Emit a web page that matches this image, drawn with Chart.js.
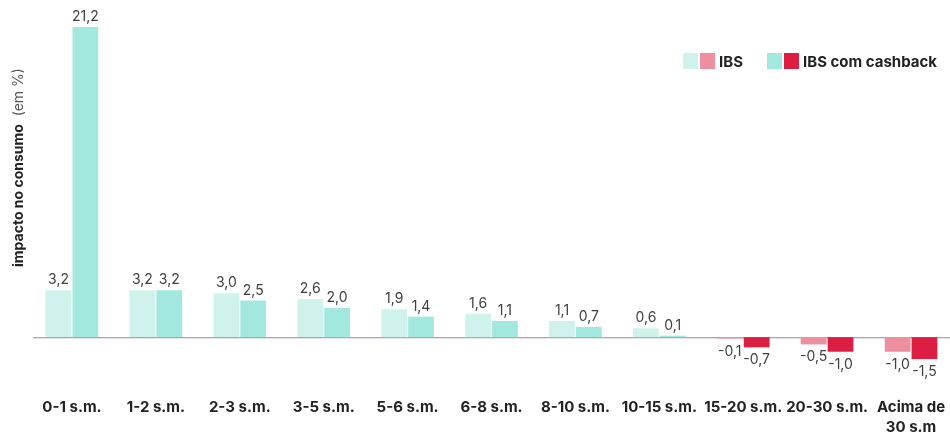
<!DOCTYPE html>
<html lang="pt-BR">
<head>
<meta charset="utf-8">
<title>Impacto no consumo por faixa de renda</title>
<script src="https://cdn.jsdelivr.net/npm/chart.js@4.4.1/dist/chart.umd.min.js"></script>
<style>
  html, body { margin: 0; padding: 0; background: #ffffff; overflow: hidden; }
  #wrap { width: 960px; height: 434px; position: relative; }
</style>
</head>
<body>
<div id="wrap"><canvas id="chart" width="960" height="434"></canvas></div>
<script>
// Faixas de renda (salários mínimos)
const categories = [
  '0-1 s.m.', '1-2 s.m.', '2-3 s.m.', '3-5 s.m.', '5-6 s.m.', '6-8 s.m.',
  '8-10 s.m.', '10-15 s.m.', '15-20 s.m.', '20-30 s.m.', ['Acima de', '30 s.m']
];
// Impacto no consumo (em %)
const ibsValues = [3.2, 3.2, 3.0, 2.6, 1.9, 1.6, 1.1, 0.6, -0.1, -0.5, -1.0];
const cashbackValues = [21.2, 3.2, 2.5, 2.0, 1.4, 1.1, 0.7, 0.1, -0.7, -1.0, -1.5];
const seriesNames = ['IBS', 'IBS com cashback'];

const COLORS = {
  ibsPos: '#cff2ed',
  ibsNeg: '#ee8fa0',
  cbPos: '#a3e8de',
  cbNeg: '#dc1e43'
};
const FONT = 'Inter, "Open Sans", sans-serif';

const fmt = v => v.toFixed(1).replace('.', ',');

// Linha do zero
const zeroLine = {
  id: 'zeroLine',
  beforeDatasetsDraw(chart) {
    const ctx = chart.ctx;
    const y = Math.round(chart.scales.y.getPixelForValue(0));
    ctx.save();
    ctx.fillStyle = '#aaa6ae';
    ctx.fillRect(33, y, chart.width - 33, 1);
    ctx.fillStyle = '#e6e2ea';
    ctx.fillRect(33, y + 1, chart.width - 33, 1);
    ctx.restore();
  }
};

// Rótulos de valor sobre/sob as barras
const valueLabels = {
  id: 'valueLabels',
  afterDatasetsDraw(chart) {
    const ctx = chart.ctx;
    ctx.save();
    ctx.font = '400 14px ' + FONT;
    ctx.fillStyle = '#404040';
    ctx.textAlign = 'center';
    ctx.textBaseline = 'alphabetic';
    chart.data.datasets.forEach((ds, di) => {
      const meta = chart.getDatasetMeta(di);
      meta.data.forEach((bar, i) => {
        const v = ds.data[i];
        const y = v >= 0 ? bar.y - 6 : bar.y + 17;
        ctx.fillText(fmt(v), bar.x, y);
      });
    });
    ctx.restore();
  }
};

// Legenda com amostras duplas (positivo / negativo)
const dualLegend = {
  id: 'dualLegend',
  afterDraw(chart) {
    const ctx = chart.ctx;
    const items = [
      { x: 683, colors: [COLORS.ibsPos, COLORS.ibsNeg], text: seriesNames[0] },
      { x: 767, colors: [COLORS.cbPos, COLORS.cbNeg], text: seriesNames[1] }
    ];
    const top = 53, size = 16, w = 15;
    ctx.save();
    ctx.font = '700 15px ' + FONT;
    ctx.textBaseline = 'middle';
    ctx.textAlign = 'left';
    items.forEach(it => {
      ctx.fillStyle = it.colors[0];
      ctx.fillRect(it.x, top, w, size);
      ctx.fillStyle = it.colors[1];
      ctx.fillRect(it.x + w + 2, top, w, size);
      ctx.fillStyle = '#222222';
      ctx.fillText(it.text, it.x + 2 * w + 6, top + size / 2 + 1);
    });
    ctx.restore();
  }
};

// Título do eixo vertical (parte em negrito + unidade)
const yTitle = {
  id: 'yTitle',
  afterDraw(chart) {
    const ctx = chart.ctx;
    ctx.save();
    ctx.translate(19, 267);
    ctx.rotate(-Math.PI / 2);
    ctx.textBaseline = 'middle';
    ctx.textAlign = 'left';
    ctx.font = '700 14px ' + FONT;
    ctx.fillStyle = '#222222';
    const bold = 'impacto no consumo';
    ctx.fillText(bold, 0, 0);
    const w = ctx.measureText(bold).width;
    ctx.font = '400 14px ' + FONT;
    ctx.fillStyle = '#555555';
    ctx.fillText('  (em %)', w, 0);
    ctx.restore();
  }
};

const colorBySign = (pos, neg) => ctx => (ctx.raw < 0 ? neg : pos);

new Chart(document.getElementById('chart'), {
  type: 'bar',
  data: {
    labels: categories,
    datasets: [
      {
        label: seriesNames[0],
        data: ibsValues,
        backgroundColor: colorBySign(COLORS.ibsPos, COLORS.ibsNeg),
        categoryPercentage: 0.64,
        barPercentage: 0.96
      },
      {
        label: seriesNames[1],
        data: cashbackValues,
        backgroundColor: colorBySign(COLORS.cbPos, COLORS.cbNeg),
        categoryPercentage: 0.64,
        barPercentage: 0.96
      }
    ]
  },
  options: {
    responsive: false,
    animation: false,
    devicePixelRatio: 1,
    layout: { padding: { top: 27, left: 30, right: 7, bottom: 0 } },
    plugins: {
      legend: { display: false },
      tooltip: { enabled: false }
    },
    scales: {
      x: {
        grid: { display: false },
        border: { display: false },
        afterFit(scale) { scale.height = 53; },
        ticks: {
          autoSkip: false,
          maxRotation: 0,
          padding: 9,
          color: '#222222',
          font: { family: FONT, size: 15, weight: '700', lineHeight: 1.3 }
        }
      },
      y: {
        display: false,
        min: -3,
        max: 21.2
      }
    }
  },
  plugins: [zeroLine, valueLabels, dualLegend, yTitle]
});
</script>
</body>
</html>
